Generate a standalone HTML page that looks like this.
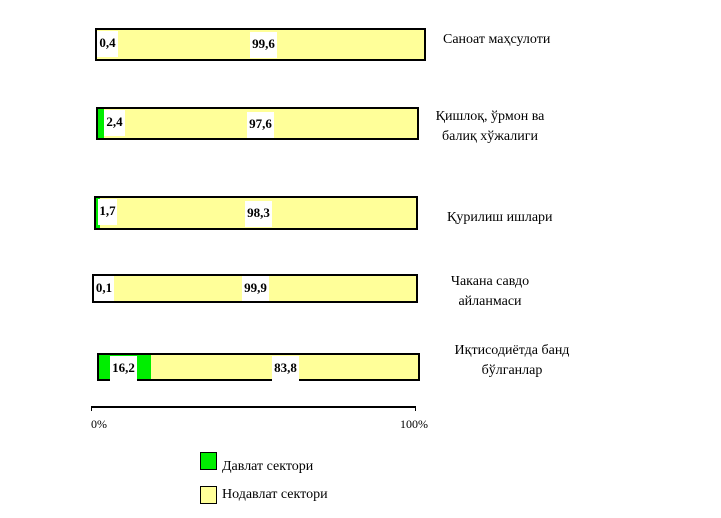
<!DOCTYPE html>
<html><head><meta charset="utf-8"><style>
body{margin:0;width:721px;height:518px;background:#fff;position:relative;overflow:hidden;font-family:"Liberation Serif",serif;}
div{position:absolute;box-sizing:border-box;}
.bar{background:#ffff99;border:2px solid #000;}
.g{background:#00ee00;}
.v{background:#fff;font-weight:bold;font-size:13px;line-height:24px;text-align:center;color:#000;}
.t{font-size:14px;line-height:20px;white-space:nowrap;color:#000;}
.c{text-align:center;}
</style></head><body>
<div class="bar" style="left:95px;top:28px;width:331px;height:33px"></div>
<div class="v" style="left:97px;top:31px;width:21px;height:26px">0,4</div>
<div class="v" style="left:250px;top:32px;width:27px;height:26px">99,6</div>

<div class="bar" style="left:96px;top:107px;width:323px;height:33px"></div>
<div class="g" style="left:98px;top:109px;width:6px;height:29px"></div>
<div class="v" style="left:104px;top:110px;width:21px;height:26px">2,4</div>
<div class="v" style="left:247px;top:112px;width:27px;height:26px">97,6</div>

<div class="bar" style="left:94px;top:196px;width:324px;height:34px"></div>
<div class="g" style="left:96px;top:198px;width:4px;height:30px"></div>
<div class="v" style="left:98px;top:199px;width:19px;height:26px">1,7</div>
<div class="v" style="left:245px;top:201px;width:27px;height:26px">98,3</div>

<div class="bar" style="left:92px;top:274px;width:326px;height:29px"></div>
<div class="v" style="left:94px;top:276px;width:20px;height:25px">0,1</div>
<div class="v" style="left:242px;top:276px;width:27px;height:25px">99,9</div>

<div class="bar" style="left:97px;top:353px;width:323px;height:28px"></div>
<div class="g" style="left:99px;top:355px;width:52px;height:24px"></div>
<div class="v" style="left:110px;top:356px;width:27px;height:25px">16,2</div>
<div class="v" style="left:272px;top:356px;width:27px;height:25px">83,8</div>

<div style="left:91px;top:406px;width:325px;height:2px;background:#000"></div>
<div style="left:91px;top:406px;width:1px;height:5px;background:#000"></div>
<div style="left:415px;top:406px;width:1px;height:5px;background:#000"></div>
<div class="t" style="left:91px;top:414px;font-size:12px">0%</div>
<div class="t" style="left:400px;top:414px;font-size:12px">100%</div>

<div class="t" style="left:443px;top:30px">Саноат маҳсулоти</div>
<div class="t c" style="left:430px;top:107px;width:120px">Қишлоқ, ўрмон ва<br>балиқ хўжалиги</div>
<div class="t" style="left:447px;top:208px">Қурилиш ишлари</div>
<div class="t c" style="left:430px;top:272px;width:120px">Чакана савдо<br>айланмаси</div>
<div class="t c" style="left:442px;top:341px;width:140px">Иқтисодиётда банд<br>бўлганлар</div>

<div class="g" style="left:200px;top:452px;width:17px;height:18px;border:1px solid #000"></div>
<div class="t" style="left:222px;top:457px">Давлат сектори</div>
<div style="left:200px;top:486px;width:17px;height:18px;border:1px solid #000;background:#ffff99"></div>
<div class="t" style="left:222px;top:485px">Нодавлат сектори</div>
</body></html>
